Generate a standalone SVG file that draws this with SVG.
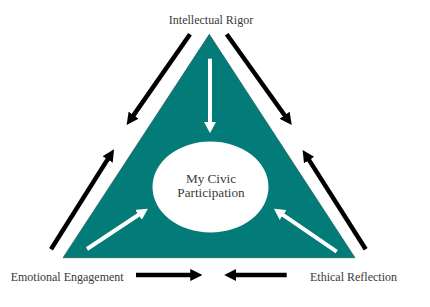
<svg xmlns="http://www.w3.org/2000/svg" width="430" height="307" viewBox="0 0 430 307">
<style>
.lbl{font-family:"Liberation Serif","DejaVu Serif",serif;font-size:12px;fill:#3a3a3a}
.ctr{font-family:"Liberation Serif","DejaVu Serif",serif;font-size:13.2px;fill:#3a3a3a}
.blk{stroke:#000;stroke-width:4.5;fill:none}
.wht{stroke:#fff;stroke-width:4;fill:none}
</style>
<defs>
<marker id="hb" viewBox="0 0 10 10" refX="3" refY="5" markerWidth="2.7" markerHeight="2.7" orient="auto" markerUnits="strokeWidth">
<path d="M0,0 L10,5 L0,10 z" fill="#000"/>
</marker>
<marker id="hw" viewBox="0 0 10 10" refX="3" refY="5" markerWidth="2.8" markerHeight="3" orient="auto" markerUnits="strokeWidth" preserveAspectRatio="none">
<path d="M0,0 L10,5 L0,10 z" fill="#fff"/>
</marker>
</defs>
<rect width="430" height="307" fill="#fff"/>
<g id="triangle">
<polygon points="209.3,34.3 63,257.7 355,257.7" fill="#037b79" stroke="#1f4f4e" stroke-width="0.6"/>
</g>
<g id="center">
<ellipse cx="210.5" cy="187" rx="58" ry="45.5" fill="#fff"/>
<text class="ctr" x="211" y="183.3" text-anchor="middle">My Civic</text>
<text class="ctr" x="211" y="197.3" text-anchor="middle">Participation</text>
</g>
<g id="intellectual-rigor">
<text class="lbl" x="211" y="24" text-anchor="middle">Intellectual Rigor</text>
</g>
<g id="emotional-engagement">
<text class="lbl" x="10.7" y="281">Emotional Engagement</text>
</g>
<g id="ethical-reflection">
<text class="lbl" x="310" y="281">Ethical Reflection</text>
</g>
<g id="connectors">
<line class="blk" x1="190" y1="34.3" x2="131.5" y2="118.1" marker-end="url(#hb)"/>
<line class="blk" x1="226.7" y1="34.3" x2="286.8" y2="118.2" marker-end="url(#hb)"/>
<line class="blk" x1="51" y1="249.3" x2="109.5" y2="156.4" marker-end="url(#hb)"/>
<line class="blk" x1="365.7" y1="249.3" x2="307.2" y2="157.1" marker-end="url(#hb)"/>
<line class="blk" x1="136" y1="275" x2="193.9" y2="275" marker-end="url(#hb)"/>
<line class="blk" x1="286.7" y1="275" x2="232.7" y2="275" marker-end="url(#hb)"/>
<line class="wht" x1="210" y1="58.7" x2="210" y2="125.3" marker-end="url(#hw)"/>
<line class="wht" x1="87" y1="249" x2="141.3" y2="213" marker-end="url(#hw)"/>
<line class="wht" x1="336.7" y1="251.7" x2="280.4" y2="213.1" marker-end="url(#hw)"/>
</g>
</svg>
